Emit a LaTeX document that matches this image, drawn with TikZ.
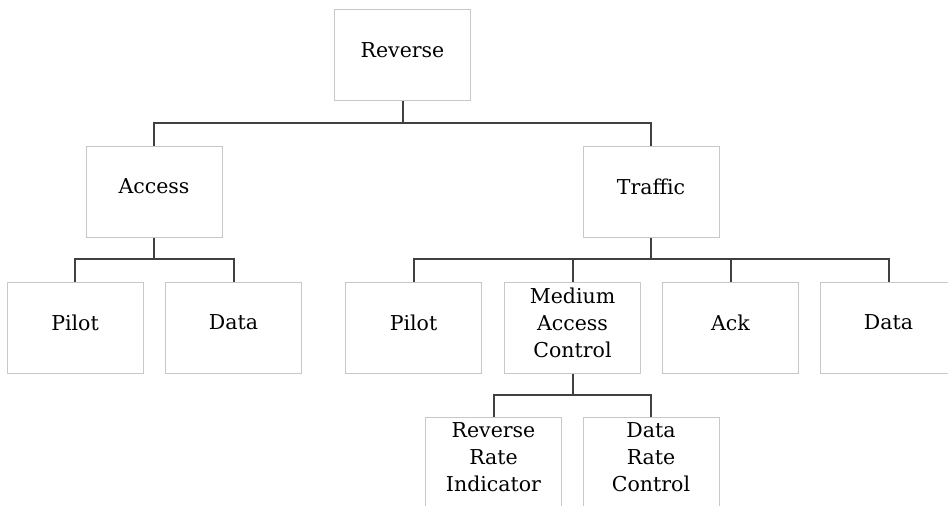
\documentclass[tikz,border=0pt]{standalone}
\usepackage{fontspec}
\setmainfont{DejaVu Serif}
\definecolor{boxline}{HTML}{C8C8C8}
\definecolor{wire}{HTML}{404040}
\begin{document}
\begin{tikzpicture}[x=1pt,y=-1pt,
  box/.style={draw=boxline, line width=1pt, minimum width=136pt, minimum height=91pt,
              inner sep=0pt, fill=white},
  lbl/.style={font=\fontsize{20.5}{27}\selectfont, align=center, inner sep=0pt,
              text=black, yshift=5pt},
  wirestyle/.style={draw=wire, line width=2pt}]
  \useasboundingbox (0,0) rectangle (948,506);
  \clip (0,0) rectangle (948,506);

  % tree boxes
  \node[box, label={[lbl]center:Reverse}] (rev) at (402.5,55) {};
  \node[box, label={[lbl]center:Access}]  (acc) at (154,191.5) {};
  \node[box, label={[lbl]center:Traffic}] (trf) at (651,191.5) {};
  \node[box, label={[lbl]center:Pilot}]   (apil) at (75,327.5) {};
  \node[box, label={[lbl]center:Data}]    (adat) at (233.5,327.5) {};
  \node[box, label={[lbl]center:Pilot}]   (tpil) at (413.5,327.5) {};
  \node[box, label={[lbl]center:Medium\\Access\\Control}] (mac) at (572.5,327.5) {};
  \node[box, label={[lbl]center:Ack}]     (ack) at (730.5,327.5) {};
  \node[box, label={[lbl]center:Data}]    (tdat) at (888.5,327.5) {};
  \node[box, label={[lbl]center:Reverse\\Rate\\Indicator}] (rri) at (493.5,462.5) {};
  \node[box, label={[lbl]center:Data\\Rate\\Control}] (drc) at (651,462.5) {};

  % bus levels
  \coordinate (busA) at (0,123);
  \coordinate (busB) at (0,259);
  \coordinate (busC) at (0,395);

  % Reverse -> Access, Traffic
  \draw[wirestyle] (rev.south) -- (rev.south |- busA);
  \draw[wirestyle] (acc.north) -- (acc.north |- busA) -- (trf.north |- busA) -- (trf.north);

  % Access -> Pilot, Data
  \draw[wirestyle] (acc.south) -- (acc.south |- busB);
  \draw[wirestyle] (apil.north) -- (apil.north |- busB) -- (adat.north |- busB) -- (adat.north);

  % Traffic -> Pilot, MAC, Ack, Data
  \draw[wirestyle] (trf.south) -- (trf.south |- busB);
  \draw[wirestyle] (tpil.north) -- (tpil.north |- busB) -- (tdat.north |- busB) -- (tdat.north);
  \draw[wirestyle] (mac.north) -- (mac.north |- busB);
  \draw[wirestyle] (ack.north) -- (ack.north |- busB);

  % MAC -> RRI, DRC
  \draw[wirestyle] (mac.south) -- (mac.south |- busC);
  \draw[wirestyle] (rri.north) -- (rri.north |- busC) -- (drc.north |- busC) -- (drc.north);
\end{tikzpicture}
\end{document}
